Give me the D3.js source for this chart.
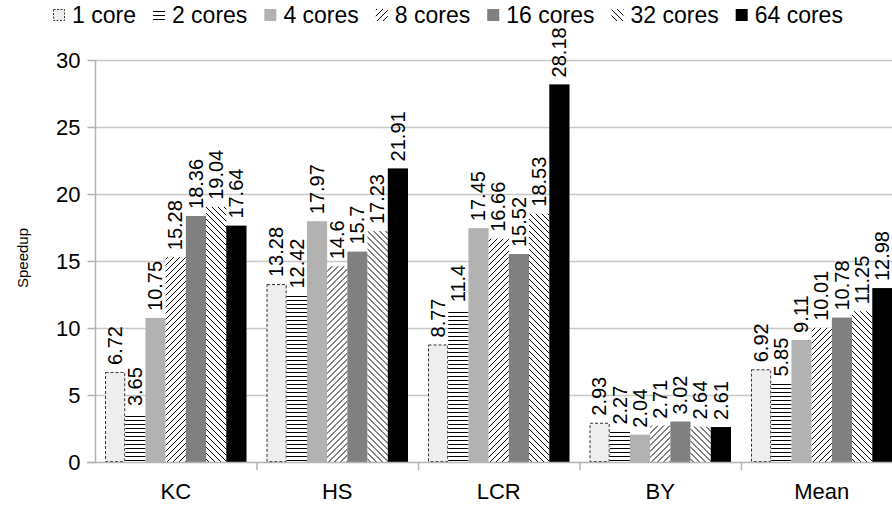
<!DOCTYPE html>
<html><head><meta charset="utf-8">
<script src="https://cdn.jsdelivr.net/npm/d3@7"></script>
<style>body{margin:0;background:#fff}svg{display:block;font-family:"Liberation Sans",Arial,sans-serif}</style>
</head><body>
<svg id="c" width="892" height="506"></svg>
<script>
const categories = ["KC","HS","LCR","BY","Mean"];
const seriesNames = ["1 core","2 cores","4 cores","8 cores","16 cores","32 cores","64 cores"];
const core1  = [6.72, 13.28, 8.77, 2.93, 6.92];
const core2  = [3.65, 12.42, 11.4, 2.27, 5.85];
const core4  = [10.75, 17.97, 17.45, 2.04, 9.11];
const core8  = [15.28, 14.6, 16.66, 2.71, 10.01];
const core16 = [18.36, 15.7, 15.52, 3.02, 10.78];
const core32 = [19.04, 17.23, 18.53, 2.64, 11.25];
const core64 = [17.64, 21.91, 28.18, 2.61, 12.98];
const yTicks = [0,5,10,15,20,25,30];
const seriesValues = [core1, core2, core4, core8, core16, core32, core64];

const svg = d3.select("#c");
const defs = svg.append("defs");
function linePattern(id, draw, size){
  const p = defs.append("pattern").attr("id", id).attr("patternUnits","userSpaceOnUse")
    .attr("width", size).attr("height", size);
  p.append("rect").attr("width", size).attr("height", size).attr("fill","#fff");
  draw(p, size);
}
linePattern("p2", (p,s)=>{ p.append("line").attr("x1",0).attr("x2",s).attr("y1",0.5).attr("y2",0.5).attr("stroke","#000").attr("stroke-width",1); }, 4);
linePattern("p8", (p,s)=>{
  p.append("path").attr("d",`M0,${s} L${s},0 M${-s/2},${s/2} L${s/2},${-s/2} M${s/2},${s*1.5} L${s*1.5},${s/2}`).attr("stroke","#000").attr("stroke-width",1);
}, 6);
linePattern("p32", (p,s)=>{
  p.append("path").attr("d",`M0,0 L${s},${s} M${-s/2},${s/2} L${s/2},${s*1.5} M${s/2},${-s/2} L${s*1.5},${s/2}`).attr("stroke","#000").attr("stroke-width",1);
}, 6);

const styles = [
  {fill:"#eeeeee", stroke:"#333", dash:"3,2"},
  {fill:"url(#p2)", stroke:"none"},
  {fill:"#b2b2b2", stroke:"none"},
  {fill:"url(#p8)", stroke:"none"},
  {fill:"#808080", stroke:"none"},
  {fill:"url(#p32)", stroke:"none"},
  {fill:"#000000", stroke:"none"}
];

const x0 = d3.scaleBand().domain(categories).range([95, 902.5]).paddingInner(0).paddingOuter(0);
const x1 = d3.scaleBand().domain(seriesNames).range([10, x0.bandwidth()-10]).padding(0);
const y = d3.scaleLinear().domain([0,30]).range([462, 60]);

// gridlines
svg.append("g").selectAll("line").data(yTicks.filter(d=>d>0)).join("line")
  .attr("x1", 95).attr("x2", 892).attr("y1", d=>y(d)+0.5).attr("y2", d=>y(d)+0.5)
  .attr("stroke","#c8c8c8").attr("stroke-width",1.5);

// y axis
const yAxis = svg.append("g").attr("transform","translate(95.5,0)")
  .call(d3.axisLeft(y).tickValues(yTicks).tickSize(8).tickPadding(7).tickFormat(d3.format("d")));
yAxis.select(".domain").attr("stroke","#b3b3b3").attr("stroke-width",1.5).attr("d","M0,60V462");
yAxis.selectAll(".tick line").attr("stroke","#b3b3b3").attr("stroke-width",1.5);
yAxis.selectAll(".tick text").attr("font-size",22).attr("fill","#000").attr("font-family","Liberation Sans, Arial, sans-serif");

// bars
const groups = svg.append("g").selectAll("g").data(categories).join("g")
  .attr("transform", d=>`translate(${x0(d)},0)`);
groups.each(function(cat, ci){
  const g = d3.select(this);
  seriesNames.forEach((s, si)=>{
    const v = seriesValues[si][ci];
    const st = styles[si];
    const bx = x1(s), bw = x1.bandwidth();
    if (st.stroke !== "none") {
      g.append("rect").attr("x", bx+0.5).attr("y", y(v)+0.5).attr("width", bw-1).attr("height", y(0)-y(v)-1)
        .attr("fill", st.fill).attr("stroke", st.stroke).attr("stroke-dasharray", st.dash).attr("stroke-width",1);
    } else {
      g.append("rect").attr("x", bx).attr("y", y(v)).attr("width", bw).attr("height", y(0)-y(v))
        .attr("fill", st.fill);
    }
    g.append("text").attr("transform", `translate(${bx+bw/2 - 0.5},${y(v)-7}) rotate(-90)`)
      .attr("dy","0.36em").attr("font-size",20).attr("fill","#000").text(v);
  });
});

// x axis
const xAxis = svg.append("g").attr("transform","translate(0,462)");
xAxis.append("line").attr("x1",87).attr("x2",892).attr("y1",0.5).attr("y2",0.5).attr("stroke","#b3b3b3").attr("stroke-width",1.5);
xAxis.selectAll("line.sep").data(categories.slice(1)).join("line").attr("class","sep")
  .attr("x1", d=>x0(d)+0.5).attr("x2", d=>x0(d)+0.5).attr("y1",0).attr("y2",8).attr("stroke","#b3b3b3").attr("stroke-width",1.5);
xAxis.selectAll("text").data(categories).join("text")
  .attr("x", d=>x0(d)+x0.bandwidth()/2).attr("y", 37).attr("text-anchor","middle")
  .attr("font-size",22).attr("fill","#000").text(d=>d);

// y title
svg.append("text").attr("transform","translate(28,258) rotate(-90)").attr("text-anchor","middle")
  .attr("font-size",15).attr("fill","#000").text("Speedup");

// legend
const leg = svg.append("g").attr("transform","translate(53,15)");
let lx = 0;
seriesNames.forEach((s, si)=>{
  const st = styles[si];
  if (st.stroke !== "none") {
    leg.append("rect").attr("x", lx+0.5).attr("y", -5.5).attr("width", 11).attr("height", 11)
      .attr("fill", st.fill).attr("stroke", st.stroke).attr("stroke-dasharray","2,1.5").attr("stroke-width",1);
  } else {
    leg.append("rect").attr("x", lx).attr("y", -6).attr("width", 12).attr("height", 12).attr("fill", st.fill);
  }
  const t = leg.append("text").attr("x", lx+19).attr("y", 0).attr("dy","0.36em")
    .attr("font-size",23).attr("fill","#000").text(s);
  lx += 19 + t.node().getComputedTextLength() + 17;
});
</script>
</body></html>
